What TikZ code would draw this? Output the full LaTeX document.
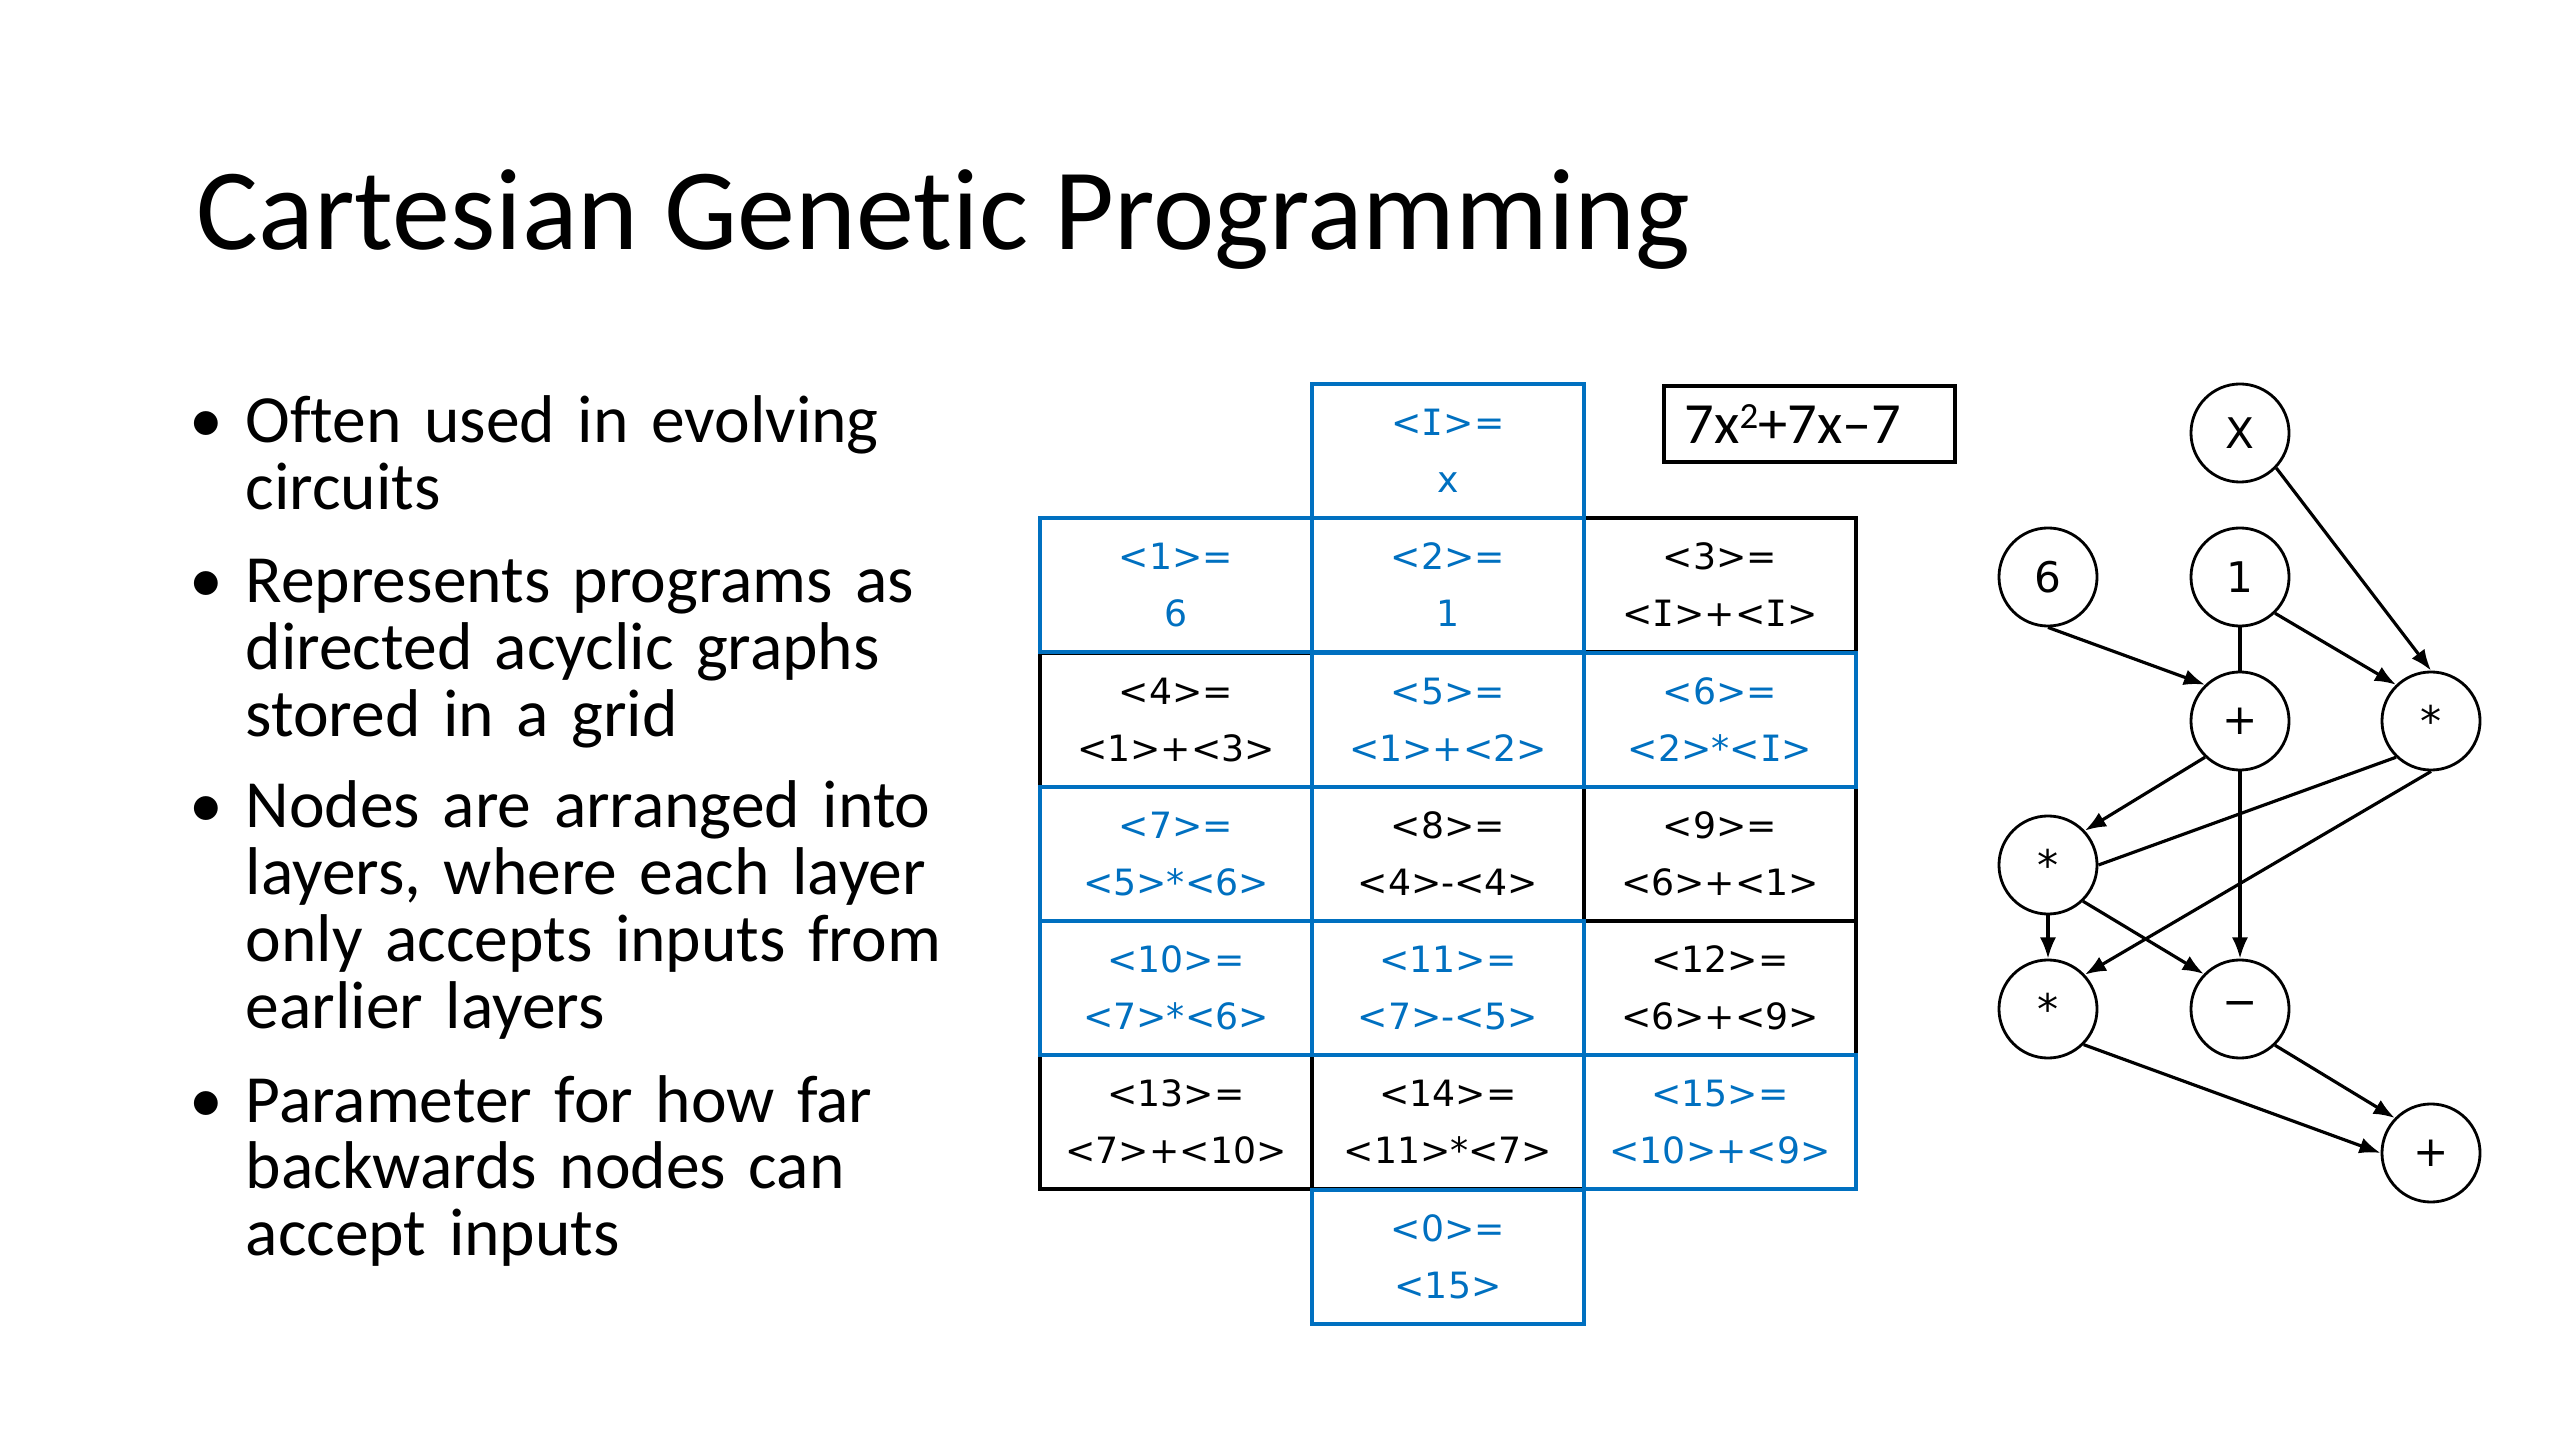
\documentclass[tikz,border=0pt]{standalone}
\usepackage{fontspec}
\setmainfont{Carlito}[Ligatures={TeX,NoCommon}]
\newfontfamily\genefont{DejaVu Sans}
\newfontfamily\genemono{DejaVu Sans Mono}
\usetikzlibrary{arrows.meta}
\definecolor{geneblue}{HTML}{0070C0}
\newcommand\bul{\makebox[0pt][r]{\makebox[0.56cm][l]{\textbullet}}}
\newcommand\inp{{\genemono I}}

\begin{document}
\begin{tikzpicture}[
  x=0.01cm,
  y=-0.01cm,
  every node/.style={inner sep=0pt},
  cellbox/.style={draw=black, text=black, line width=1pt,
    minimum width=2.72cm, minimum height=1.343cm, align=center,
    font=\genefont\fontsize{10.3}{16.2}\selectfont},
  cellhot/.style={cellbox, draw=geneblue, text=geneblue},
  opnode/.style={draw, circle, line width=0.8pt, minimum size=0.98cm,
    font=\genefont\fontsize{12}{14}\selectfont},
  wire/.style={line width=0.9pt, -{Latex[length=6pt,width=4.6pt]}},
  bullettext/.style={anchor=base west, text width=11cm, align=left,
    font=\fontsize{19.2}{19.0}\selectfont}
]
  \useasboundingbox[fill=white] (0,0) rectangle (2560,1440);

  \node[anchor=base west, font=\fontsize{33}{40}\selectfont] (title) at (196,250) {Cartesian Genetic Programming};

  \node[bullettext] (b1) at (245,443) {\bul Often used in evolving\\circuits};
  \node[bullettext] (b2) at (245,603) {\bul Represents programs as\\directed acyclic graphs\\stored in a grid};
  \node[bullettext] (b3) at (245,828) {\bul Nodes are arranged into\\layers, where each layer\\only accepts inputs from\\earlier layers};
  \node[bullettext] (b4) at (245,1122) {\bul Parameter for how far\\backwards nodes can\\accept inputs};

  % unused genes first, so the blue edges lie on top
  \node[cellbox] (c3) at (1720,585) {<3>=\\<\inp>+<\inp>};
  \node[cellbox] (c4) at (1176,720) {<4>=\\<1>+<3>};
  \node[cellbox] (c8) at (1448,854) {<8>=\\<4>-<4>};
  \node[cellbox] (c9) at (1720,854) {<9>=\\<6>+<1>};
  \node[cellbox] (c12) at (1720,988) {<12>=\\<6>+<9>};
  \node[cellbox] (c13) at (1176,1122) {<13>=\\<7>+<10>};
  \node[cellbox] (c14) at (1448,1122) {<14>=\\<11>*<7>};

  \node[cellhot] (cI) at (1448,451) {<\inp>=\\x};
  \node[cellhot] (c1) at (1176,585) {<1>=\\6};
  \node[cellhot] (c2) at (1448,585) {<2>=\\1};
  \node[cellhot] (c5) at (1448,720) {<5>=\\<1>+<2>};
  \node[cellhot] (c6) at (1720,720) {<6>=\\<2>*<\inp>};
  \node[cellhot] (c7) at (1176,854) {<7>=\\<5>*<6>};
  \node[cellhot] (c10) at (1176,988) {<10>=\\<7>*<6>};
  \node[cellhot] (c11) at (1448,988) {<11>=\\<7>-<5>};
  \node[cellhot] (c15) at (1720,1122) {<15>=\\<10>+<9>};
  \node[cellhot] (c0) at (1448,1257) {<0>=\\<15>};

  \node[draw, line width=1pt, anchor=north west, minimum height=0.76cm,
    text width=2.49cm, inner xsep=0.21cm, align=left,
    font=\fontsize{16.6}{20}\selectfont] (poly) at (1662,384) {7x\raisebox{0.55ex}{\fontsize{10.5}{12}\selectfont 2}+7x\textendash7};

  \node[opnode] (gI) at (2240,433) {X};
  \node[opnode] (g1) at (2048,577) {6};
  \node[opnode] (g2) at (2240,577) {1};
  \node[opnode] (g5) at (2240,721) {+};
  \node[opnode] (g6) at (2431,721) {*};
  \node[opnode] (g7) at (2048,865) {*};
  \node[opnode] (g10) at (2048,1009) {*};
  \node[opnode] (g11) at (2240,1009) {−};
  \node[opnode] (g15) at (2431,1153) {+};

  \draw[wire] (gI.-44) -- (g6.north);
  \draw[wire] (g1.south) -- (g5.134);
  \draw[line width=0.9pt] (g2.south) -- (g5.north);
  \draw[wire] (g2.-46) -- (g6.134);
  \draw[wire] (g5.-134) -- (g7.43);
  \draw[line width=0.9pt] (g6.-134) -- (g7.east);
  \draw[wire] (g6.south) -- (g10.43);
  \draw[wire] (g7.south) -- (g10.north);
  \draw[wire] (g7.-46) -- (g11.136);
  \draw[wire] (g5.south) -- (g11.north);
  \draw[wire] (g10.-45) -- (g15.west);
  \draw[wire] (g11.-46) -- (g15.136);
\end{tikzpicture}
\end{document}
